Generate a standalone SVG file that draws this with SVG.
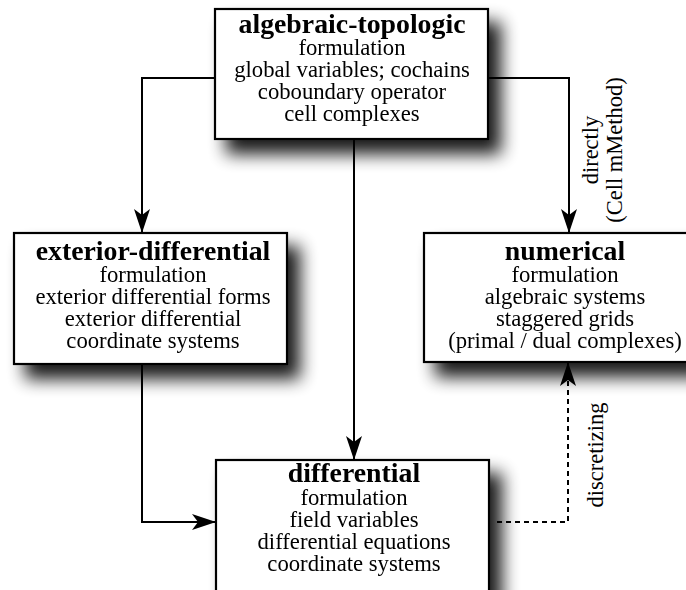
<svg xmlns="http://www.w3.org/2000/svg" width="686" height="590" viewBox="0 0 686 590">
<defs>
<filter id="shadow" x="-20%" y="-25%" width="160%" height="180%">
<feGaussianBlur in="SourceAlpha" stdDeviation="8.5"/>
<feOffset dx="12" dy="14" result="b"/>
<feComponentTransfer in="b" result="s"><feFuncA type="linear" slope="0.9"/></feComponentTransfer>
<feMerge><feMergeNode in="s"/><feMergeNode in="SourceGraphic"/></feMerge>
</filter>
<marker id="arr" viewBox="0 0 24 16" refX="23" refY="8" markerWidth="24" markerHeight="16" markerUnits="userSpaceOnUse" orient="auto">
<path d="M0,0 L24,8 L0,16 L6,8 Z" fill="#000"/>
</marker>
</defs>
<style>
.box{fill:#fff;stroke:#000;stroke-width:2.2}
.t{font-family:"Liberation Serif","Times New Roman",serif;font-size:22.7px;text-anchor:middle;fill:#000}
.h{font-weight:bold;font-size:27.8px}
.c{fill:none;stroke:#000;stroke-width:2}
.d{stroke-dasharray:5,4}
.r{font-family:"Liberation Serif","Times New Roman",serif;font-size:22.5px;text-anchor:middle;fill:#000}
</style>
<rect width="686" height="590" fill="#fff"/>
<g id="node-algebraic" filter="url(#shadow)">
<rect class="box" x="215" y="9" width="273" height="130"/>
<text class="t h" x="352" y="33">algebraic-topologic</text>
<text class="t" x="352" y="55">formulation</text>
<text class="t" x="352" y="77">global variables; cochains</text>
<text class="t" x="352" y="99">coboundary operator</text>
<text class="t" x="352" y="121">cell complexes</text>
</g>
<g id="node-exterior" filter="url(#shadow)">
<rect class="box" x="14" y="233" width="273" height="131"/>
<text class="t h" x="153" y="260">exterior-differential</text>
<text class="t" x="153" y="282">formulation</text>
<text class="t" x="153" y="304">exterior differential forms</text>
<text class="t" x="153" y="326">exterior differential</text>
<text class="t" x="153" y="348">coordinate systems</text>
</g>
<g id="node-numerical" filter="url(#shadow)">
<rect class="box" x="424" y="233" width="282" height="129"/>
<text class="t h" x="565" y="260">numerical</text>
<text class="t" x="565" y="282">formulation</text>
<text class="t" x="565" y="304">algebraic systems</text>
<text class="t" x="565" y="326">staggered grids</text>
<text class="t" x="565" y="348">(primal / dual complexes)</text>
</g>
<g id="node-differential" filter="url(#shadow)">
<rect class="box" x="216" y="460" width="273" height="140"/>
<text class="t h" x="354" y="482">differential</text>
<text class="t" x="354" y="505">formulation</text>
<text class="t" x="354" y="527">field variables</text>
<text class="t" x="354" y="549">differential equations</text>
<text class="t" x="354" y="571">coordinate systems</text>
</g>
<g id="connectors">
<path class="c" d="M215,78 H142 V232" marker-end="url(#arr)"/>
<path class="c" d="M354,139 V459" marker-end="url(#arr)"/>
<path class="c" d="M488,78 H569 V232" marker-end="url(#arr)"/>
<path class="c" d="M142,364 V522 H215" marker-end="url(#arr)"/>
<path class="c d" d="M497,522 H568 V363" marker-end="url(#arr)"/>
<text class="r" transform="translate(598,150) rotate(-90)">directly</text>
<text class="r" transform="translate(622,150) rotate(-90)">(Cell mMethod)</text>
<text class="r" transform="translate(603,455) rotate(-90)">discretizing</text>
</g>
</svg>
